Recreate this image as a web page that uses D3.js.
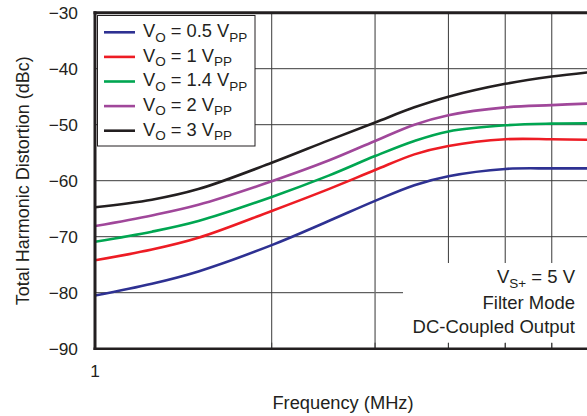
<!DOCTYPE html>
<html>
<head>
<meta charset="utf-8">
<script src="https://cdn.jsdelivr.net/npm/d3@7"></script>
<style>
  html, body { margin: 0; padding: 0; background: #fff; }
  svg { display: block; font-family: "Liberation Sans", Arial, Helvetica, sans-serif; }
</style>
</head>
<body>
<svg id="chart" width="587" height="416"></svg>
<script>
// ---- data ----
const freqs = [1, 1.25, 1.5, 2, 2.5, 3, 3.5, 4, 5, 6, 7];
const thd05 = [-80.5, -78.4, -76.2, -71.5, -67.2, -63.6, -60.8, -59.2, -57.9, -57.8, -57.8];
const thd1  = [-74.2, -72.3, -70.2, -65.4, -61.5, -58.1, -55.3, -53.8, -52.6, -52.6, -52.7];
const thd14 = [-70.9, -69.1, -67.2, -62.9, -59.1, -55.6, -52.9, -51.2, -50.1, -49.8, -49.75];
const thd2  = [-68.1, -66.2, -64.3, -60.1, -56.4, -52.9, -50.0, -48.3, -46.9, -46.5, -46.2];
const thd3  = [-64.75, -63.4, -61.5, -56.8, -52.8, -49.6, -46.9, -45.0, -42.7, -41.4, -40.6];
const seriesNames = ["0.5", "1", "1.4", "2", "3"];
const seriesValues = [thd05, thd1, thd14, thd2, thd3];
const seriesColors = ["#2e3192", "#ed1c24", "#00a651", "#a0479a", "#231f20"];
const yTicks = [-30, -40, -50, -60, -70, -80, -90];
const xMinor = [2, 3, 4, 5, 6, 7, 8, 9];
const xTickLabels = [1];

const svg = d3.select("#chart");
const ink = "#231f20";

const x = d3.scaleLog().domain([1, 10]).range([95, 682]);
const y = d3.scaleLinear().domain([-90, -30]).range([348.7, 12.7]);

// grid
const grid = svg.append("g");
grid.selectAll("line.h").data(yTicks.filter(v => v > -90 && v < -30)).join("line")
  .attr("x1", 95).attr("x2", 700)
  .attr("y1", d => y(d)).attr("y2", d => y(d))
  .attr("stroke", "#3a3a3a").attr("stroke-width", 1);
grid.selectAll("line.v").data(xMinor).join("line")
  .attr("x1", d => x(d)).attr("x2", d => x(d))
  .attr("y1", y(-30)).attr("y2", y(-90))
  .attr("stroke", (d) => (d === 3 || d === 5) ? "#6f6f6f" : "#3a3a3a")
  .attr("stroke-width", (d) => (d === 3 || d === 5) ? 1.4 : 1);

// annotation box (white)
svg.append("rect").attr("x", 403).attr("y", 263).attr("width", 200).attr("height", 80)
  .attr("fill", "#fff");

// inward ticks along bottom
svg.append("g").selectAll("line").data(xMinor).join("line")
  .attr("x1", d => x(d)).attr("x2", d => x(d))
  .attr("y1", y(-90) - 6).attr("y2", y(-90))
  .attr("stroke", "#3a3a3a").attr("stroke-width", 1);

// curves
const line = d3.line()
  .x((d, i) => x(freqs[i]))
  .y(d => y(d))
  .curve(d3.curveCatmullRom.alpha(0.5));
svg.append("defs").append("clipPath").attr("id", "plotclip")
  .append("rect").attr("x", 95).attr("y", 12.7).attr("width", 600).attr("height", 336);
const curves = svg.append("g").attr("clip-path", "url(#plotclip)");
seriesValues.forEach((vals, k) => {
  curves.append("path").datum(vals)
    .attr("d", line)
    .attr("fill", "none")
    .attr("stroke", seriesColors[k])
    .attr("stroke-width", 2.6)
    .attr("stroke-linejoin", "round");
});

// frame
svg.append("line").attr("x1", 93.5).attr("x2", 600).attr("y1", y(-30)).attr("y2", y(-30))
  .attr("stroke", ink).attr("stroke-width", 3);
svg.append("line").attr("x1", 93.5).attr("x2", 600).attr("y1", y(-90)).attr("y2", y(-90))
  .attr("stroke", ink).attr("stroke-width", 2.6);
svg.append("line").attr("x1", x(1)).attr("x2", x(1)).attr("y1", y(-30) - 1.5).attr("y2", y(-90) + 1.3)
  .attr("stroke", ink).attr("stroke-width", 3);

// y tick labels
svg.append("g").selectAll("text").data(yTicks).join("text")
  .attr("x", 78).attr("y", d => y(d)).attr("dy", "0.36em")
  .attr("text-anchor", "end").attr("font-size", 17.3).attr("fill", ink)
  .text(d => d3.format("")(d).replace("-", "\u2212"));

// x tick labels
svg.append("g").selectAll("text").data(xTickLabels).join("text")
  .attr("x", d => x(d)).attr("y", 377)
  .attr("text-anchor", "middle").attr("font-size", 17.3).attr("fill", ink)
  .text(d => d);

// axis titles
svg.append("text").attr("x", 343).attr("y", 409).attr("text-anchor", "middle")
  .attr("font-size", 18.3).attr("fill", ink).text("Frequency (MHz)");
svg.append("text").attr("transform", "translate(28.5," + ((y(-30) + y(-90)) / 2) + ") rotate(-90)")
  .attr("text-anchor", "middle").attr("font-size", 18).attr("fill", ink)
  .text("Total Harmonic Distortion (dBc)");

// legend
const lg = svg.append("g");
lg.append("rect").attr("x", 97.5).attr("y", 15.5).attr("width", 157.5).attr("height", 130.5)
  .attr("fill", "#fff").attr("stroke", ink).attr("stroke-width", 1);
seriesNames.forEach((name, k) => {
  const ly = 32.3 + k * 24.6;
  lg.append("line").attr("x1", 104).attr("x2", 135).attr("y1", ly).attr("y2", ly)
    .attr("stroke", seriesColors[k]).attr("stroke-width", 2.6);
  const t = lg.append("text").attr("x", 143).attr("y", ly + 4.8)
    .attr("font-size", 18.3).attr("fill", ink);
  t.append("tspan").text("V");
  t.append("tspan").attr("font-size", 13.5).attr("dy", 4.5).text("O");
  t.append("tspan").attr("dy", -4.5).text(" = " + name + " V");
  t.append("tspan").attr("font-size", 13.5).attr("dy", 4.5).text("PP");
});

// annotation
const ann = svg.append("g").attr("font-size", 18.5).attr("fill", ink).attr("text-anchor", "end");
const a1 = ann.append("text").attr("x", 575).attr("y", 283);
a1.append("tspan").text("V");
a1.append("tspan").attr("font-size", 13.5).attr("dy", 4.5).text("S+");
a1.append("tspan").attr("dy", -4.5).text(" = 5 V");
ann.append("text").attr("x", 575).attr("y", 309).text("Filter Mode");
ann.append("text").attr("x", 575).attr("y", 332.5).text("DC-Coupled Output");
</script>
</body>
</html>
